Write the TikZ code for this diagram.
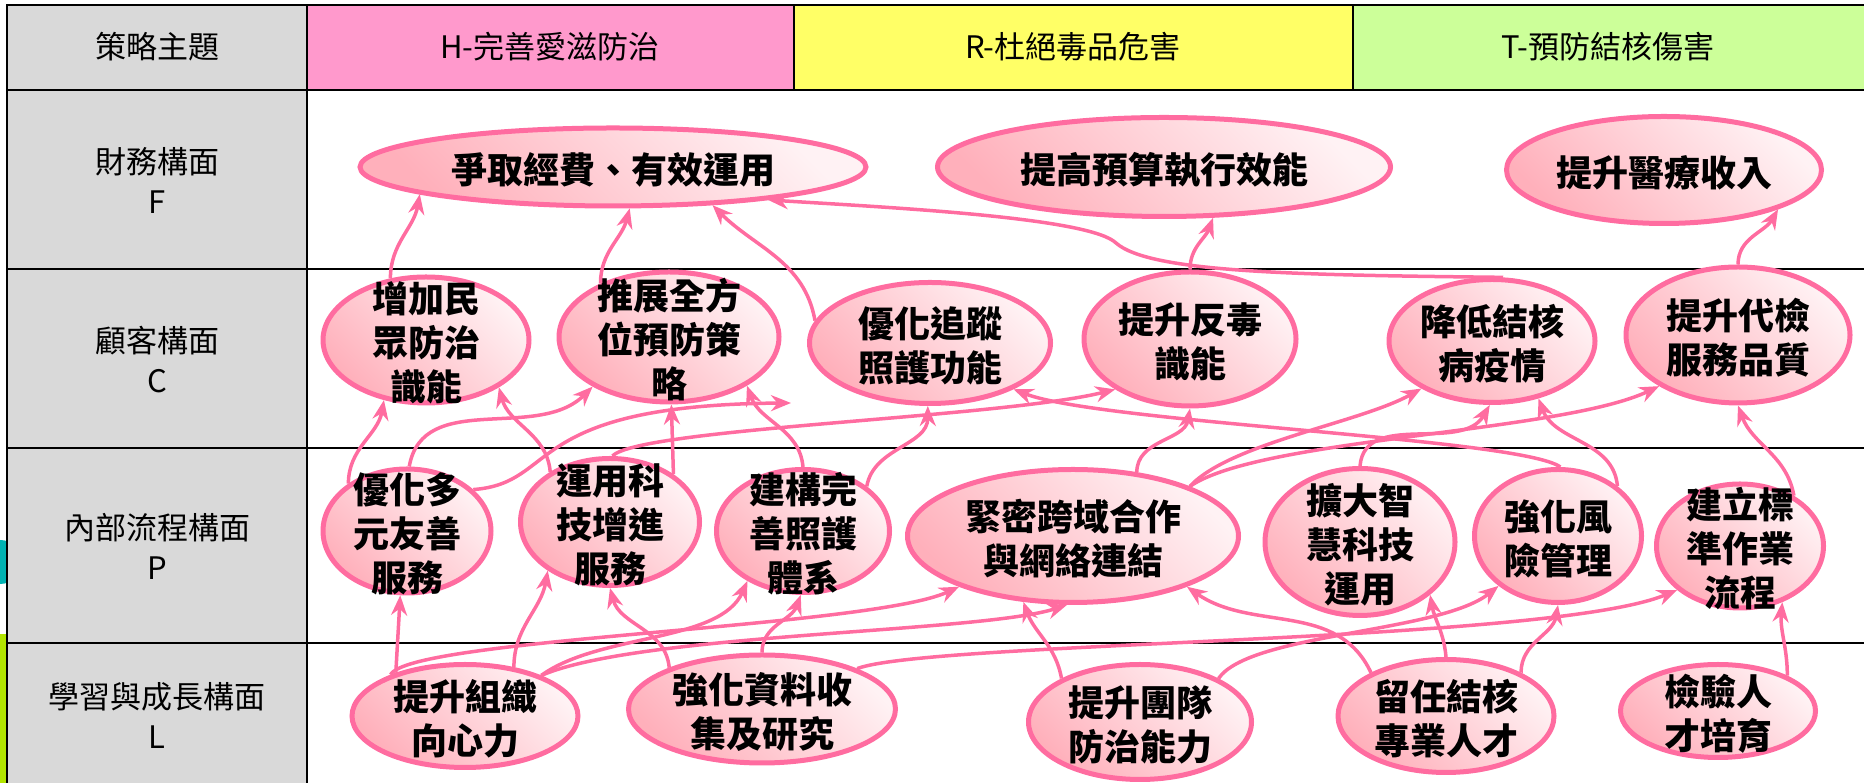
\documentclass[tikz,border=0pt]{standalone}
\usepackage{fontspec}
\newfontfamily\cjk{Noto Sans CJK TC}
\usetikzlibrary{shapes.geometric,arrows.meta}
\definecolor{linkpink}{HTML}{FF6CA0}
\definecolor{goallight}{HTML}{FFF2F4}
\definecolor{goaldark}{HTML}{FFB0BB}
\definecolor{sidegray}{HTML}{D9D9D9}
\definecolor{hpink}{HTML}{FF99CC}
\definecolor{ryellow}{HTML}{FFFF66}
\definecolor{tgreen}{HTML}{CCFF99}
% centred text that does not grow the ellipse
\newcommand{\gtext}[1]{\makebox[0pt]{\smash{\raisebox{-0.25em}{\parbox[c]{10em}{\centering #1}}}}}
\tikzset{
  goal/.style={ellipse, draw=linkpink, line width=5pt, top color=goallight,
    bottom color=goaldark, shading angle=-45, inner sep=0pt,
    font=\cjk\bfseries\fontsize{36}{44}\selectfont},
  link/.style={draw=linkpink, line width=3.5pt, -{Stealth[length=20pt,width=16pt]}},
  rowlabel/.style={font=\cjk\fontsize{31}{40}\selectfont, align=center},
}

\begin{document}
\begin{tikzpicture}[x=1pt,y=1pt]
\useasboundingbox (0,0) rectangle (1864,783);
% bits of the slide behind the table
\fill[teal!60!cyan] (0,221) circle (22);
\fill[lime!80!olive] (0,0) rectangle (7,149);
% cell fills
\fill[sidegray] (7,0) rectangle (307,778);
\fill[hpink] (307,693) rectangle (794,778);
\fill[ryellow] (794,693) rectangle (1353,778);
\fill[tgreen] (1353,693) rectangle (1864,778);
% grid lines
\draw[line width=2.5pt] (7,0) -- (7,778) -- (1864,778);
\foreach \yy in {693,514,335,140}
  \draw[line width=2.5pt] (7,\yy) -- (1864,\yy);
\draw[line width=2.5pt] (307,0) -- (307,778);
\draw[line width=2.5pt] (794,693) -- (794,778) (1353,693) -- (1353,778);
% header row
\node[rowlabel] (theme) at (157,736) {策略主題};
\node[rowlabel] (hhead) at (550,736) {H-完善愛滋防治};
\node[rowlabel] (rhead) at (1073,736) {R-杜絕毒品危害};
\node[rowlabel] (thead) at (1608,736) {T-預防結核傷害};
% perspective labels
\node[rowlabel] (flabel) at (157,603) {財務構面\\F};
\node[rowlabel] (clabel) at (157,423) {顧客構面\\C};
\node[rowlabel] (plabel) at (157,237) {內部流程構面\\P};
\node[rowlabel] (llabel) at (157,68) {學習與成長構面\\L};

% financial goals
\node[goal, minimum width=506pt, minimum height=78pt] (fund) at (613,616) {\gtext{爭取經費、有效運用}};
\node[goal, minimum width=453pt, minimum height=99pt] (budget) at (1164,616) {\gtext{提高預算執行效能}};
\node[goal, minimum width=315pt, minimum height=107pt] (income) at (1664,613) {\gtext{提升醫療收入}};
% customer goals
\node[goal, minimum width=206pt, minimum height=126pt] (aware) at (426,443) {\gtext{增加民\\眾防治\\識能}};
\node[goal, minimum width=220pt, minimum height=130pt] (prevent) at (669,446) {\gtext{推展全方\\位預防策\\略}};
\node[goal, minimum width=241pt, minimum height=121pt] (track) at (930,440) {\gtext{優化追蹤\\照護功能}};
\node[goal, minimum width=212pt, minimum height=134pt] (antidrug) at (1190,444) {\gtext{提升反毒\\識能}};
\node[goal, minimum width=206pt, minimum height=123pt] (tb) at (1492,442) {\gtext{降低結核\\病疫情}};
\node[goal, minimum width=224pt, minimum height=136pt] (lab) at (1738,448) {\gtext{提升代檢\\服務品質}};
% internal process goals
\node[goal, minimum width=168pt, minimum height=124pt] (friendly) at (407,252) {\gtext{優化多\\元友善\\服務}};
\node[goal, minimum width=179pt, minimum height=127pt] (tech) at (610,261) {\gtext{運用科\\技增進\\服務}};
\node[goal, minimum width=173pt, minimum height=123pt] (care) at (803,252) {\gtext{建構完\\善照護\\體系}};
\node[goal, minimum width=331pt, minimum height=133pt] (network) at (1073,247) {\gtext{緊密跨域合作\\與網絡連結}};
\node[goal, minimum width=190pt, minimum height=147pt] (smart) at (1360,241) {\gtext{擴大智\\慧科技\\運用}};
\node[goal, minimum width=167pt, minimum height=133pt] (risk) at (1558,247) {\gtext{強化風\\險管理}};
\node[goal, minimum width=167pt, minimum height=124pt] (sop) at (1740,237) {\gtext{建立標\\準作業\\流程}};
% learning and growth goals
\node[goal, minimum width=226pt, minimum height=103pt] (org) at (465,67) {\gtext{提升組織\\向心力}};
\node[goal, minimum width=267pt, minimum height=108pt] (data) at (762,74) {\gtext{強化資料收\\集及研究}};
\node[goal, minimum width=223pt, minimum height=115pt] (team) at (1140,61) {\gtext{提升團隊\\防治能力}};
\node[goal, minimum width=216pt, minimum height=113pt] (keep) at (1446,67) {\gtext{留任結核\\專業人才}};
\node[goal, minimum width=195pt, minimum height=93pt] (train) at (1718,72) {\gtext{檢驗人\\才培育}};
\coordinate (free) at (791,380);

% customer -> financial
\draw[link] (aware.120) to[out=90,in=-100] (fund.188);
\draw[link] (prevent.142) to[out=90,in=-105] (fund.-68);
\draw[link] (track.169) to[out=100,in=-45] (fund.-21);
\draw[link] (tb.80) .. controls (1300,508) and (1150,510) .. (1116,540)
  .. controls (1090,565) and (900,575) .. (fund.-12);
\draw[link] (antidrug.90) to[out=90,in=-110] (budget.-46);
\draw[link] (lab.90) to[out=90,in=-120] (income.-19);
% process -> customer
\draw[link] (friendly.141) to[out=90,in=-100] (aware.235);
\draw[link] (tech.140) to[out=95,in=-75] (aware.-33);
\draw[link] (friendly.88) to[out=80,in=-135] (prevent.213);
\draw[link] (friendly.32) .. controls (560,300) and (520,378) .. (free);
\draw[link] (tech.88) .. controls (640,355) and (1000,365) .. (antidrug.214);
\draw[link] (tech.37) -- (prevent.-88);
\draw[link] (care.90) to[out=95,in=-70] (prevent.-32);
\draw[link] (care.35) to[out=80,in=-90] (track.268);
\draw[link] (network.45) to[out=90,in=-100] (antidrug.270);
\draw[link] (network.23) .. controls (1230,340) and (1360,360) .. (tb.214);
\draw[link] (network.23) .. controls (1260,345) and (1560,350) .. (lab.213);
\draw[link] (smart.90) to[out=85,in=-120] (tb.268);
\draw[link] (risk.88) .. controls (1520,345) and (1100,360) .. (track.-29);
\draw[link] (risk.40) to[out=95,in=-70] (tb.-51);
\draw[link] (sop.43) to[out=100,in=-70] (lab.270);
% learning -> process
\draw[link] (org.148) -- (friendly.-96);
\draw[link] (org.45) to[out=90,in=-100] (tech.218);
\draw[link] (org.28) .. controls (600,150) and (720,140) .. (care.222);
\draw[link] (org.151) .. controls (410,145) and (870,155) .. (network.204);
\draw[link] (org.28) .. controls (640,150) and (980,150) .. (network.-95);
\draw[link] (data.156) to[out=95,in=-75] (tech.-90);
\draw[link] (data.90) to[out=90,in=-110] (care.-92);
\draw[link] (data.23) .. controls (930,142) and (1550,140) .. (sop.215);
\draw[link] (team.151) to[out=100,in=-70] (network.233);
\draw[link] (team.29) .. controls (1250,150) and (1440,150) .. (risk.220);
\draw[link] (keep.150) to[out=115,in=-35] (network.-24);
\draw[link] (keep.90) to[out=95,in=-80] (smart.-37);
\draw[link] (keep.30) to[out=90,in=-100] (risk.-90);
\draw[link] (train.27) to[out=90,in=-95] (sop.-53);
\end{tikzpicture}
\end{document}
